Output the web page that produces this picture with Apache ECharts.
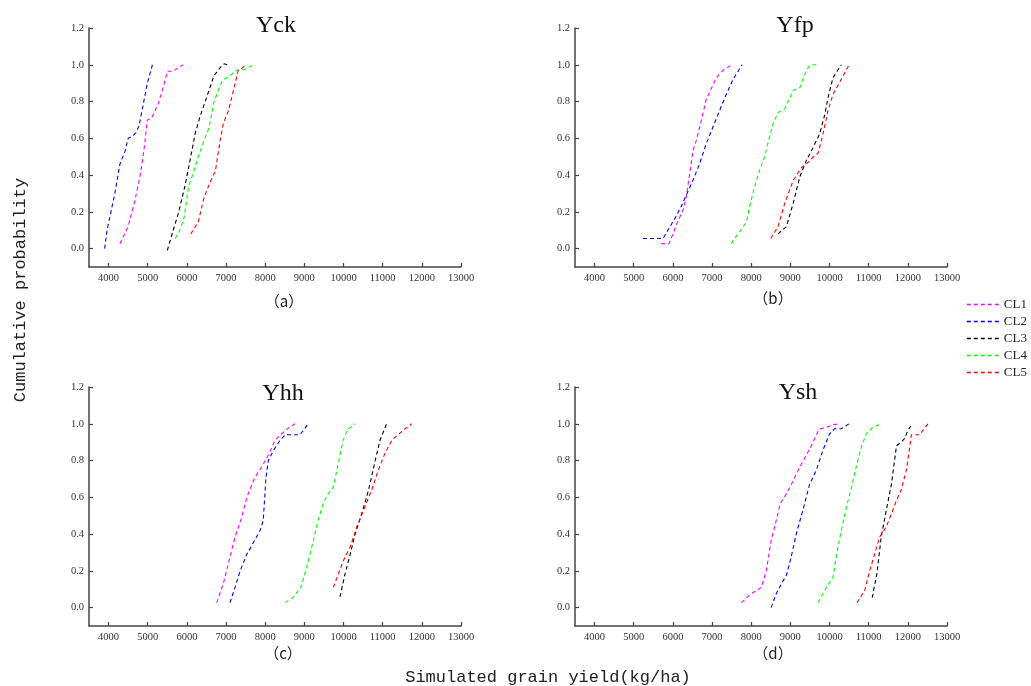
<!DOCTYPE html>
<html>
<head>
<meta charset="utf-8">
<script src="https://cdn.jsdelivr.net/npm/echarts@6/dist/echarts.min.js"></script>
<style>html,body{margin:0;padding:0;background:#fff;}#c{width:1031px;height:686px;}</style>
</head>
<body>
<div id="c"></div>
<script>
// ---------- data ----------
const seriesNames = ['CL1', 'CL2', 'CL3', 'CL4', 'CL5'];
const panelTitles = ['Yck', 'Yfp', 'Yhh', 'Ysh'];
const panelLabels = ['（a）', '（b）', '（c）', '（d）'];
const xTicks = [4000, 5000, 6000, 7000, 8000, 9000, 10000, 11000, 12000, 13000];
const yTicks = [0.0, 0.2, 0.4, 0.6, 0.8, 1.0, 1.2];

// Panel (a) Yck
const yck_CL1 = [[4290,0.027],[4500,0.12],[4670,0.26],[4800,0.39],[4900,0.53],[4990,0.70],[5100,0.71],[5270,0.79],[5400,0.88],[5500,0.965],[5650,0.965],[5750,0.98],[5910,1.0]];
const yck_CL2 = [[3900,0.0],[3960,0.10],[4160,0.30],[4290,0.46],[4420,0.53],[4500,0.60],[4600,0.61],[4700,0.63],[4780,0.67],[4890,0.79],[4990,0.90],[5120,1.0]];
const yck_CL3 = [[5500,-0.01],[5650,0.10],[5780,0.19],[5950,0.34],[6080,0.48],[6210,0.625],[6330,0.715],[6500,0.82],[6690,0.94],[6850,0.985],[6950,1.005],[7100,0.995]];
const yck_CL4 = [[5700,0.055],[5820,0.10],[5930,0.17],[6040,0.335],[6160,0.41],[6290,0.50],[6440,0.59],[6570,0.66],[6680,0.79],[6800,0.86],[6910,0.915],[7060,0.935],[7270,0.97],[7480,0.975],[7710,1.0]];
const yck_CL5 = [[6100,0.08],[6290,0.145],[6440,0.28],[6590,0.36],[6730,0.425],[6850,0.59],[6930,0.68],[7060,0.75],[7190,0.86],[7310,0.97],[7400,0.98],[7510,1.0]];

// Panel (b) Yfp
const yfp_CL1 = [[5700,0.027],[5900,0.027],[6000,0.08],[6130,0.15],[6260,0.21],[6340,0.28],[6430,0.41],[6510,0.53],[6600,0.59],[6730,0.70],[6850,0.81],[6980,0.87],[7110,0.93],[7280,0.97],[7510,1.0]];
const yfp_CL2 = [[5235,0.055],[5750,0.055],[5870,0.10],[6040,0.16],[6215,0.23],[6340,0.29],[6510,0.37],[6680,0.46],[6850,0.57],[7020,0.66],[7190,0.75],[7365,0.84],[7535,0.92],[7765,1.0]];
const yfp_CL3 = [[8685,0.08],[8900,0.12],[9070,0.245],[9240,0.39],[9410,0.48],[9580,0.55],[9750,0.625],[9880,0.73],[9960,0.82],[10090,0.93],[10300,1.0]];
const yfp_CL4 = [[7490,0.027],[7660,0.08],[7880,0.145],[7960,0.23],[8090,0.34],[8220,0.43],[8340,0.50],[8470,0.61],[8560,0.68],[8685,0.74],[8855,0.76],[9070,0.86],[9240,0.875],[9410,0.97],[9510,1.0],[9710,1.0]];
const yfp_CL5 = [[8500,0.055],[8685,0.12],[8855,0.245],[9070,0.37],[9280,0.44],[9410,0.46],[9540,0.49],[9710,0.52],[9835,0.625],[9960,0.75],[10090,0.84],[10260,0.905],[10500,1.0]];

// Panel (c) Yhh
const yhh_CL1 = [[6760,0.027],[6930,0.13],[7100,0.275],[7230,0.385],[7400,0.49],[7530,0.60],[7740,0.71],[7910,0.765],[8080,0.83],[8250,0.91],[8420,0.945],[8550,0.97],[8760,1.0]];
const yhh_CL2 = [[7100,0.027],[7230,0.11],[7360,0.20],[7530,0.29],[7740,0.37],[7870,0.42],[7950,0.475],[8020,0.71],[8080,0.80],[8210,0.855],[8380,0.91],[8510,0.94],[8890,0.94],[9100,1.0]];
const yhh_CL3 = [[9910,0.058],[10040,0.185],[10170,0.29],[10295,0.40],[10465,0.51],[10640,0.64],[10810,0.80],[10930,0.91],[11100,1.0]];
const yhh_CL4 = [[8510,0.027],[8720,0.058],[8910,0.11],[9060,0.22],[9230,0.365],[9350,0.475],[9480,0.565],[9610,0.62],[9740,0.655],[9860,0.78],[9990,0.91],[10100,0.97],[10295,1.0]];
const yhh_CL5 = [[9740,0.11],[9870,0.185],[10000,0.257],[10170,0.33],[10340,0.44],[10510,0.53],[10720,0.64],[10890,0.75],[11060,0.84],[11230,0.91],[11360,0.935],[11530,0.965],[11740,1.0]];

// Panel (d) Ysh
const ysh_CL1 = [[7750,0.027],[8000,0.076],[8260,0.11],[8385,0.20],[8510,0.366],[8640,0.475],[8740,0.565],[8900,0.62],[9070,0.69],[9240,0.765],[9410,0.83],[9580,0.90],[9730,0.97],[9920,0.98],[10090,0.995],[10260,1.0]];
const ysh_CL2 = [[8510,0.0],[8640,0.076],[8770,0.13],[8900,0.176],[9020,0.275],[9150,0.40],[9320,0.53],[9490,0.67],[9660,0.746],[9830,0.855],[10000,0.945],[10130,0.973],[10300,0.973],[10500,1.0]];
const ysh_CL3 = [[11090,0.054],[11210,0.185],[11320,0.384],[11450,0.53],[11580,0.67],[11710,0.88],[11830,0.90],[11920,0.92],[12000,0.964],[12115,1.0]];
const ysh_CL4 = [[9705,0.027],[9920,0.11],[10090,0.167],[10170,0.275],[10300,0.42],[10430,0.547],[10560,0.652],[10680,0.765],[10810,0.873],[10940,0.946],[11110,0.982],[11320,1.0]];
const ysh_CL5 = [[10700,0.027],[10900,0.094],[11025,0.20],[11150,0.29],[11280,0.384],[11450,0.44],[11580,0.51],[11710,0.583],[11830,0.64],[11960,0.746],[12050,0.873],[12090,0.94],[12300,0.94],[12515,1.0]];

const panelData = [
  [yck_CL1, yck_CL2, yck_CL3, yck_CL4, yck_CL5],
  [yfp_CL1, yfp_CL2, yfp_CL3, yfp_CL4, yfp_CL5],
  [yhh_CL1, yhh_CL2, yhh_CL3, yhh_CL4, yhh_CL5],
  [ysh_CL1, ysh_CL2, ysh_CL3, ysh_CL4, ysh_CL5]
];

// ---------- styling / layout ----------
const colors = ['#ff00ff', '#0000ff', '#000000', '#00ff00', '#ff0000'];
const gridPos = [
  {left: 89, top: 28}, {left: 575, top: 28},
  {left: 89, top: 387}, {left: 575, top: 387}
];
const titlePos = [[276, 26], [795, 26], [283, 394], [798, 393]];
const labelPos = [[284, 301], [773, 298], [283, 653], [773, 653]];
const serif = '"Liberation Serif", "DejaVu Serif", serif';
const mono = '"Liberation Mono", "DejaVu Sans Mono", monospace';

const grids = [], xAxes = [], yAxes = [], series = [], graphics = [];
gridPos.forEach((g, i) => {
  grids.push({left: g.left, top: g.top, width: 372, height: 239, containLabel: false});
  xAxes.push({
    type: 'value', gridIndex: i, min: 3500, max: 13000,
    splitLine: {show: false},
    axisLine: {show: true, onZero: false, lineStyle: {color: '#444', width: 1.5}},
    axisTick: {show: true, inside: true, length: 4, customValues: xTicks, lineStyle: {color: '#444', width: 1.2}},
    axisLabel: {customValues: xTicks, margin: 6, color: '#333', fontSize: 10.5, fontFamily: serif,
      formatter: v => String(v)}
  });
  yAxes.push({
    type: 'value', gridIndex: i, min: -0.1, max: 1.2,
    splitLine: {show: false},
    axisLine: {show: true, onZero: false, lineStyle: {color: '#444', width: 1.5}},
    axisTick: {show: true, inside: true, length: 4, customValues: yTicks, lineStyle: {color: '#444', width: 1.2}},
    axisLabel: {customValues: yTicks, margin: 5, color: '#333', fontSize: 10.5, fontFamily: serif,
      formatter: v => Number(v).toFixed(1)}
  });
  panelData[i].forEach((d, k) => {
    series.push({
      type: 'line', name: seriesNames[k], xAxisIndex: i, yAxisIndex: i,
      data: d, showSymbol: false, symbol: 'none', animation: false,
      lineStyle: {color: colors[k], width: 1.1, type: [4, 3]},
      itemStyle: {color: colors[k]}
    });
  });
  graphics.push({type: 'text', x: titlePos[i][0], y: titlePos[i][1],
    style: {text: panelTitles[i], font: '24px ' + serif, fill: '#111', align: 'center', verticalAlign: 'middle'}});
  graphics.push({type: 'text', x: labelPos[i][0], y: labelPos[i][1],
    style: {text: panelLabels[i], font: '15px "Noto Sans CJK SC", ' + serif, fill: '#222', align: 'center', verticalAlign: 'middle'}});
});

graphics.push({type: 'text', x: 20, y: 290, rotation: Math.PI / 2,
  style: {text: 'Cumulative probability', font: '17px ' + mono, fill: '#222', align: 'center', verticalAlign: 'middle'}});
graphics.push({type: 'text', x: 548, y: 677,
  style: {text: 'Simulated grain yield(kg/ha)', font: '17px ' + mono, fill: '#222', align: 'center', verticalAlign: 'middle'}});

const chart = echarts.init(document.getElementById('c'), null, {renderer: 'canvas'});
chart.setOption({
  animation: false,
  backgroundColor: '#fff',
  grid: grids, xAxis: xAxes, yAxis: yAxes, series: series,
  legend: {
    data: seriesNames.map((n, k) => ({
      name: n,
      itemStyle: {opacity: 0},
      lineStyle: {color: colors[k], width: 1.6, type: [4, 3]}
    })),
    orient: 'vertical', left: 966, top: 298,
    itemWidth: 32, itemHeight: 10, itemGap: 4, padding: 0,
    textStyle: {fontFamily: serif, fontSize: 13, color: '#222'}
  },
  graphic: graphics
});
</script>
</body>
</html>
